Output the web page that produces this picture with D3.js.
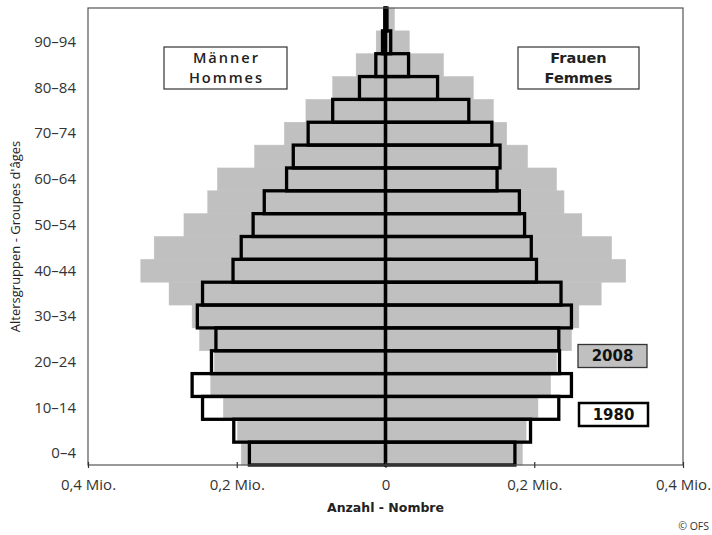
<!DOCTYPE html>
<html>
<head>
<meta charset="utf-8">
<script src="https://cdn.jsdelivr.net/npm/d3@7"></script>
<style>
  html, body { margin: 0; padding: 0; background: #fff; }
  svg { display: block; }
</style>
</head>
<body>
<svg id="chart" width="712" height="535"></svg>
<script>
// ---- data (thousands of persons) ----
const ageGroups = ["0–4","5–9","10–14","15–19","20–24","25–29","30–34","35–39","40–44","45–49",
                   "50–54","55–59","60–64","65–69","70–74","75–79","80–84","85–89","90–94","95+"];
const labeledGroups = ["0–4","10–14","20–24","30–34","40–44","50–54","60–64","70–74","80–84","90–94"];
const men2008   = [194, 199, 218, 235, 230, 250, 260, 291, 329, 311, 271, 239, 226, 176, 136, 107, 71, 39.5, 12.5, 3];
const men1980   = [183, 204, 246, 260, 234, 228, 253, 246, 205, 194, 178, 163, 133, 124, 104, 71, 35, 13, 4, 1];
const women2008 = [184, 189, 205, 222, 230, 250, 260, 290, 323, 304, 264, 240, 230, 191, 163, 145, 118, 78, 32, 12];
const women1980 = [174, 195, 233, 250, 234, 233, 250, 236, 203, 196, 187, 180, 150, 154, 143, 112, 70, 31, 7, 2];
const xTicks = [-400, -200, 0, 200, 400];

const svg = d3.select("#chart");
const L = 88, R = 683, T = 8, B = 465;
const x = d3.scaleLinear().domain([-400, 400]).range([L, R]);
const y = d3.scaleBand().domain(ageGroups).range([B, T]).padding(0);
const GRAY = "#c0c0c0";

const rows = ageGroups.map((g, i) => ({g, m08: men2008[i], m80: men1980[i], w08: women2008[i], w80: women1980[i]}));

function rectsFor(sel, key, side) {
  return sel.data(rows).join("rect")
    .attr("x", d => side < 0 ? x(-d[key]) : x(0))
    .attr("width", d => side < 0 ? x(0) - x(-d[key]) : x(d[key]) - x(0))
    .attr("y", d => y(d.g))
    .attr("height", y.bandwidth());
}

// 1980 white fill underneath
const g80fill = svg.append("g");
rectsFor(g80fill.append("g").selectAll("rect"), "m80", -1).attr("fill", "#fff");
rectsFor(g80fill.append("g").selectAll("rect"), "w80", 1).attr("fill", "#fff");

// 2008 gray bars
const g08 = svg.append("g");
rectsFor(g08.append("g").selectAll("rect"), "m08", -1).attr("fill", GRAY).attr("stroke", GRAY).attr("stroke-width", 0.5);
rectsFor(g08.append("g").selectAll("rect"), "w08", 1).attr("fill", GRAY).attr("stroke", GRAY).attr("stroke-width", 0.5);

// 1980 outlines
const g80 = svg.append("g");
rectsFor(g80.append("g").selectAll("rect"), "m80", -1).attr("fill", "none").attr("stroke", "#000").attr("stroke-width", 3.3);
rectsFor(g80.append("g").selectAll("rect"), "w80", 1).attr("fill", "none").attr("stroke", "#000").attr("stroke-width", 3.3);

// frame
svg.append("rect").attr("x", L).attr("y", T).attr("width", R - L).attr("height", B - T)
  .attr("fill", "none").attr("stroke", "#555").attr("stroke-width", 1.2);

// x axis
const xAxis = d3.axisBottom(x).tickValues(xTicks).tickSize(4).tickPadding(0)
  .tickFormat(v => v === 0 ? "0" : (Math.abs(v) / 1000).toString().replace(".", ",") + " Mio.");
const gx = svg.append("g").attr("transform", `translate(0,${B})`).call(xAxis);
gx.select(".domain").remove();
gx.selectAll(".tick line").attr("y1", -3).attr("y2", 3).attr("stroke", "#333").attr("stroke-width", 1.2);
gx.selectAll(".tick text").attr("y", 25).attr("dy", 0)
  .attr("font-family", "'Open Sans', sans-serif").attr("font-size", 15).attr("fill", "#333");

// y axis labels
const yAxis = d3.axisLeft(y).tickValues(labeledGroups).tickSize(0).tickPadding(12);
const gy = svg.append("g").attr("transform", `translate(${L},0)`).call(yAxis);
gy.select(".domain").remove();
gy.selectAll(".tick text").attr("font-family", "'Open Sans', sans-serif").attr("font-size", 15).attr("fill", "#333");

// axis titles
svg.append("text").attr("transform", `translate(20,${(T + B) / 2}) rotate(-90)`)
  .attr("text-anchor", "middle").attr("font-family", "'Open Sans', sans-serif").attr("font-size", 13)
  .attr("fill", "#222").text("Altersgruppen - Groupes d'âges");
svg.append("text").attr("x", x(0)).attr("y", 512).attr("text-anchor", "middle")
  .attr("font-family", "'DejaVu Sans', sans-serif").attr("font-weight", "bold").attr("font-size", 12.5)
  .attr("fill", "#222").text("Anzahl - Nombre");
svg.append("text").attr("x", 709).attr("y", 530).attr("text-anchor", "end")
  .attr("font-family", "'Open Sans', sans-serif").attr("font-size", 10.5).attr("fill", "#333").text("© OFS");

// side labels
function sideBox(x0, x1, lines, font, size, spacing, weight) {
  svg.append("rect").attr("x", x0).attr("y", 47).attr("width", x1 - x0).attr("height", 42)
    .attr("fill", "#fff").attr("stroke", "#333").attr("stroke-width", 1.2);
  lines.forEach((t, i) => svg.append("text").attr("x", (x0 + x1) / 2 + spacing / 2).attr("y", 62.5 + i * 20)
    .attr("text-anchor", "middle").attr("font-family", font).attr("font-weight", weight)
    .attr("font-size", size).attr("letter-spacing", spacing).attr("fill", "#222").text(t));
}
sideBox(164, 287, ["Männer", "Hommes"], "'Open Sans', sans-serif", 14.6, 2, 600);
sideBox(518, 639, ["Frauen", "Femmes"], "'DejaVu Sans', sans-serif", 14.5, 0, "bold");

// year legend
svg.append("rect").attr("x", 578).attr("y", 344.5).attr("width", 69).attr("height", 23)
  .attr("fill", GRAY).attr("stroke", "#333").attr("stroke-width", 1.3);
svg.append("text").attr("x", 612.5).attr("y", 361).attr("text-anchor", "middle")
  .attr("font-family", "'DejaVu Sans', sans-serif").attr("font-weight", "bold").attr("font-size", 15)
  .attr("fill", "#111").text("2008");
svg.append("rect").attr("x", 579).attr("y", 403).attr("width", 69).attr("height", 23)
  .attr("fill", "#fff").attr("stroke", "#000").attr("stroke-width", 2.5);
svg.append("text").attr("x", 613.5).attr("y", 419.5).attr("text-anchor", "middle")
  .attr("font-family", "'DejaVu Sans', sans-serif").attr("font-weight", "bold").attr("font-size", 15)
  .attr("fill", "#111").text("1980");
</script>
</body>
</html>
